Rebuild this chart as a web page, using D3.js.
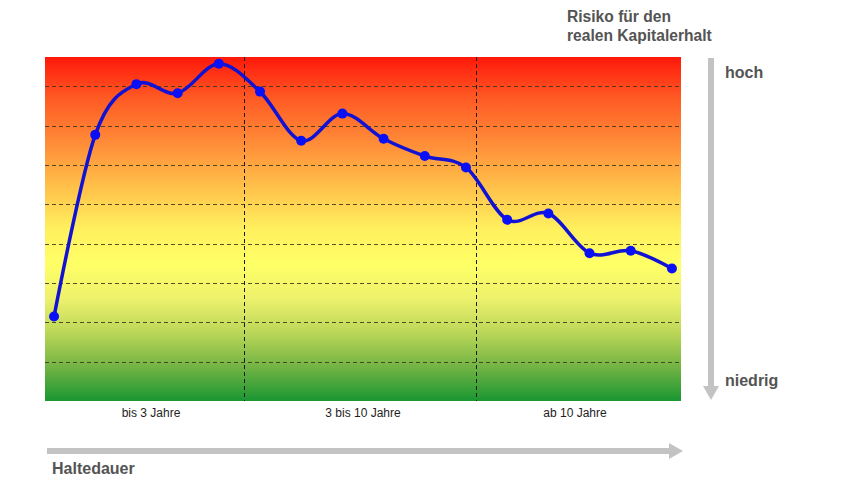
<!DOCTYPE html>
<html>
<head>
<meta charset="utf-8">
<script src="https://cdn.jsdelivr.net/npm/d3@7"></script>
<style>
html,body{margin:0;padding:0;background:#fff;}
svg{display:block;font-family:"Liberation Sans",Arial,sans-serif;}
</style>
</head>
<body>
<svg id="chart" width="850" height="483"></svg>
<script>
// ---- data ----
const pointIndex = d3.range(16);
const riskValues = [2.15, 6.77, 8.06, 7.83, 8.58, 7.87, 6.62, 7.31, 6.67, 6.23, 5.94, 4.61, 4.77, 3.76, 3.82, 3.37];
const gridValues = [1, 2, 3, 4, 5, 6, 7, 8];
const periodLabels = ["bis 3 Jahre", "3 bis 10 Jahre", "ab 10 Jahre"];
const dividerFractions = [0.313, 0.678];
const titleLines = ["Risiko für den", "realen Kapitalerhalt"];
const riskHigh = "hoch";
const riskLow = "niedrig";
const xTitle = "Haltedauer";

// ---- layout ----
const svg = d3.select("#chart");
const plot = {left: 45, right: 681, top: 57, bottom: 401};

const x = d3.scalePoint().domain(pointIndex).range([plot.left, plot.right]).padding(0.22);
const y = d3.scaleLinear().domain([0, 8.75]).range([plot.bottom, plot.top]);
const band = d3.scaleBand().domain(periodLabels).range([plot.left, plot.right]);
const frac = d3.scaleLinear().domain([0, 1]).range([plot.left, plot.right]);

const defs = svg.append("defs");
const grad = defs.append("linearGradient").attr("id", "bg").attr("x1", 0).attr("y1", 0).attr("x2", 0).attr("y2", 1);
[[0, "#ff180a"], [0.12, "#ff5a24"], [0.25, "#ff8c38"], [0.38, "#ffc24a"], [0.5, "#fff05e"], [0.6, "#ffff66"],
 [0.7, "#eef26c"], [0.8, "#bcd758"], [0.9, "#73b444"], [1, "#199632"]].forEach(s => {
  grad.append("stop").attr("offset", s[0]).attr("stop-color", s[1]);
});

svg.append("rect")
  .attr("x", plot.left).attr("y", plot.top)
  .attr("width", plot.right - plot.left).attr("height", plot.bottom - plot.top)
  .attr("fill", "url(#bg)");

// horizontal gridlines
svg.append("g").selectAll("line").data(gridValues).join("line")
  .attr("x1", plot.left).attr("x2", plot.right)
  .attr("y1", d => Math.round(y(d)) + 0.5).attr("y2", d => Math.round(y(d)) + 0.5)
  .attr("stroke", "#3a3220").attr("stroke-opacity", 0.85)
  .attr("stroke-width", 1.1).attr("stroke-dasharray", "4,3");

// vertical dividers
svg.append("g").selectAll("line").data(dividerFractions).join("line")
  .attr("x1", d => Math.round(frac(d)) + 0.5).attr("x2", d => Math.round(frac(d)) + 0.5)
  .attr("y1", plot.top).attr("y2", plot.bottom)
  .attr("stroke", "#1a1a1a").attr("stroke-width", 1).attr("stroke-dasharray", "4,3");

// line
const line = d3.line()
  .x((d, i) => x(pointIndex[i]))
  .y(d => y(d))
  .curve(d3.curveCardinal.tension(0));

svg.append("path").datum(riskValues)
  .attr("d", line)
  .attr("fill", "none").attr("stroke", "#1212d2").attr("stroke-width", 3.5)
  .attr("stroke-linejoin", "round");

svg.append("g").selectAll("circle").data(riskValues).join("circle")
  .attr("cx", (d, i) => x(pointIndex[i])).attr("cy", d => y(d))
  .attr("r", 5).attr("fill", "#0a10f5");

// period labels
svg.append("g").selectAll("text").data(periodLabels).join("text")
  .attr("x", d => band(d) + band.bandwidth() / 2)
  .attr("y", 417)
  .attr("text-anchor", "middle")
  .attr("font-size", 12).attr("fill", "#1e1e1e")
  .text(d => d);

// titles
const titleG = svg.append("text").attr("font-size", 15.6).attr("font-weight", "bold").attr("fill", "#545454");
titleLines.forEach((t, i) => {
  titleG.append("tspan").attr("x", 567).attr("y", 22 + i * 18.5).text(t);
});

svg.append("text").attr("x", 725).attr("y", 78)
  .attr("font-size", 16).attr("font-weight", "bold").attr("fill", "#545454").text(riskHigh);
svg.append("text").attr("x", 725).attr("y", 386)
  .attr("font-size", 16).attr("font-weight", "bold").attr("fill", "#545454").text(riskLow);
svg.append("text").attr("x", 52).attr("y", 474)
  .attr("font-size", 16).attr("font-weight", "bold").attr("fill", "#545454").text(xTitle);

// vertical arrow
svg.append("rect").attr("x", 708).attr("y", 58).attr("width", 6).attr("height", 330).attr("fill", "#c3c3c3");
svg.append("path").attr("d", "M703,386 L719,386 L711,400 Z").attr("fill", "#c3c3c3");

// horizontal arrow
svg.append("rect").attr("x", 47).attr("y", 448).attr("width", 624).attr("height", 6).attr("fill", "#c3c3c3");
svg.append("path").attr("d", "M669,443 L683,451 L669,459 Z").attr("fill", "#c3c3c3");
</script>
</body>
</html>
